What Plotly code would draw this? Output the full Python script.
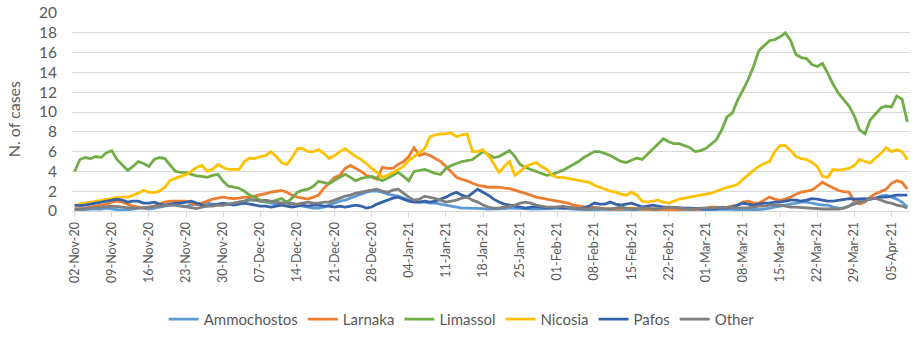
import pandas as pd
import plotly.graph_objects as go

dates = pd.date_range("2020-11-02", periods=158, freq="D")
categories = [d.strftime("%d-%b-%y") for d in dates]

tick_labels = ["02-Nov-20", "09-Nov-20", "16-Nov-20", "23-Nov-20", "30-Nov-20", "07-Dec-20",
               "14-Dec-20", "21-Dec-20", "28-Dec-20", "04-Jan-21", "11-Jan-21", "18-Jan-21",
               "25-Jan-21", "01-Feb-21", "08-Feb-21", "15-Feb-21", "22-Feb-21", "01-Mar-21",
               "08-Mar-21", "15-Mar-21", "22-Mar-21", "29-Mar-21", "05-Apr-21"]

ammochostos = [0.1, 0.1, 0.15, 0.2, 0.2, 0.2, 0.3, 0.2, 0.15, 0.1, 0.1, 0.2, 0.3, 0.3, 0.2, 0.3,
               0.4, 0.5, 0.6, 0.6, 0.5, 0.5, 0.6, 0.7, 0.8, 0.8, 0.7, 0.6, 0.6, 0.7, 0.8, 0.9,
               1.0, 1.1, 1.1, 1.0, 0.9, 0.8, 0.7, 0.8, 0.9, 0.8, 0.6, 0.5, 0.4, 0.3, 0.3, 0.4,
               0.6, 0.8, 1.0, 1.1, 1.3, 1.5, 1.7, 1.9, 2.0, 2.0, 1.9, 1.7, 1.6, 1.5, 1.3, 1.1,
               1.0, 0.9, 0.9, 0.8, 0.8, 0.7, 0.6, 0.5, 0.4, 0.3, 0.3, 0.3, 0.3, 0.25, 0.2, 0.2,
               0.2, 0.25, 0.3, 0.3, 0.3, 0.25, 0.2, 0.2, 0.2, 0.2, 0.25, 0.3, 0.3, 0.25, 0.2, 0.2,
               0.15, 0.1, 0.1, 0.15, 0.2, 0.2, 0.2, 0.15, 0.1, 0.1, 0.15, 0.2, 0.2, 0.2, 0.15, 0.1,
               0.1, 0.1, 0.1, 0.1, 0.1, 0.1, 0.1, 0.1, 0.1, 0.15, 0.2, 0.2, 0.2, 0.15, 0.1, 0.1,
               0.1, 0.15, 0.2, 0.3, 0.4, 0.5, 0.6, 0.7, 0.8, 0.9, 0.9, 0.8, 0.7, 0.6, 0.6, 0.4,
               0.3, 0.3, 0.5, 0.9, 1.0, 1.1, 1.25, 1.3, 1.5, 1.6, 1.4, 1.2, 0.9, 0.4]

larnaka = [0.2, 0.2, 0.3, 0.4, 0.5, 0.6, 0.7, 0.9, 1.0, 0.9, 0.7, 0.5, 0.4, 0.3, 0.4, 0.5,
           0.7, 0.9, 1.0, 1.0, 1.0, 1.0, 0.8, 0.6, 0.8, 1.0, 1.2, 1.3, 1.4, 1.3, 1.25, 1.3,
           1.4, 1.4, 1.5, 1.6, 1.75, 1.9, 2.0, 2.07, 1.9, 1.6, 1.4, 1.3, 1.2, 1.4, 1.6, 2.3,
           2.9, 3.4, 3.6, 4.3, 4.6, 4.3, 4.0, 3.6, 3.4, 3.2, 4.4, 4.3, 4.3, 4.7, 5.0, 5.5,
           6.4, 5.6, 5.8, 5.6, 5.3, 5.0, 4.5, 3.9, 3.4, 3.2, 3.05, 2.8, 2.6, 2.5, 2.4, 2.4,
           2.4, 2.3, 2.25, 2.1, 1.95, 1.8, 1.6, 1.4, 1.3, 1.25, 1.15, 1.0, 0.9, 0.8, 0.6, 0.5,
           0.45, 0.42, 0.35, 0.3, 0.25, 0.2, 0.2, 0.25, 0.3, 0.3, 0.25, 0.2, 0.15, 0.2, 0.2, 0.15,
           0.1, 0.15, 0.2, 0.2, 0.2, 0.15, 0.2, 0.3, 0.4, 0.4, 0.35, 0.4, 0.5, 0.6, 0.9, 1.0,
           0.8, 0.8, 1.1, 1.4, 1.2, 1.08, 1.2, 1.4, 1.7, 1.9, 2.0, 2.1, 2.5, 2.9, 2.6, 2.3,
           2.07, 1.95, 1.9, 1.0, 0.7, 0.9, 1.4, 1.75, 2.0, 2.2, 2.8, 3.05, 2.9, 2.2]

limassol = [4.0, 5.2, 5.4, 5.3, 5.5, 5.4, 5.9, 6.1, 5.2, 4.6, 4.1, 4.5, 5.0, 4.8, 4.5, 5.2,
            5.4, 5.3, 4.6, 4.0, 3.9, 3.9, 3.7, 3.55, 3.5, 3.4, 3.6, 3.7, 3.0, 2.5, 2.4, 2.3,
            2.0, 1.6, 1.4, 1.1, 1.0, 0.9, 1.1, 1.25, 0.9, 1.3, 1.9, 2.1, 2.2, 2.5, 3.0, 2.9,
            2.75, 3.1, 3.4, 3.7, 3.4, 3.05, 3.3, 3.4, 3.5, 3.3, 3.05, 3.3, 3.6, 3.9, 3.5, 3.05,
            4.0, 4.1, 4.2, 4.0, 3.8, 3.7, 4.3, 4.6, 4.8, 5.0, 5.1, 5.2, 5.6, 6.0, 5.7, 5.4,
            5.5, 5.8, 6.1, 5.5, 4.7, 4.4, 4.2, 4.0, 3.8, 3.6, 3.7, 3.9, 4.1, 4.4, 4.7, 5.0,
            5.4, 5.7, 6.0, 6.0, 5.8, 5.6, 5.3, 5.0, 4.9, 5.1, 5.35, 5.2, 5.7, 6.2, 6.8, 7.3,
            7.0, 6.8, 6.8, 6.6, 6.4, 6.0, 6.1, 6.3, 6.8, 7.2, 8.2, 9.5, 9.9, 11.2, 12.2, 13.3,
            14.6, 16.2, 16.7, 17.2, 17.3, 17.6, 18.0, 17.2, 15.8, 15.5, 15.4, 14.8, 14.6, 14.9, 13.9, 12.8,
            11.9, 11.2, 10.6, 9.6, 8.2, 7.8, 9.2, 9.8, 10.4, 10.6, 10.5, 11.6, 11.3, 9.0]

nicosia = [0.5, 0.7, 0.8, 0.9, 1.0, 1.1, 1.2, 1.3, 1.35, 1.4, 1.4, 1.6, 1.8, 2.1, 1.9, 1.85,
           2.0, 2.4, 3.1, 3.3, 3.5, 3.7, 4.0, 4.4, 4.6, 4.0, 4.2, 4.7, 4.4, 4.2, 4.2, 4.2,
           5.0, 5.35, 5.3, 5.5, 5.6, 6.0, 5.5, 4.9, 4.7, 5.4, 6.3, 6.3, 6.0, 6.0, 6.2, 5.8,
           5.3, 5.6, 6.0, 6.3, 5.9, 5.5, 5.2, 4.8, 4.3, 3.9, 3.4, 3.6, 3.9, 4.2, 4.5, 5.1,
           5.5, 5.85, 6.3, 7.5, 7.7, 7.8, 7.8, 7.9, 7.5, 7.7, 7.8, 6.0, 6.0, 6.2, 5.6, 4.8,
           3.9, 4.5, 5.0, 3.6, 4.0, 4.5, 4.7, 4.9, 4.5, 4.2, 3.6, 3.4, 3.4, 3.3, 3.2, 3.05,
           3.0, 2.9, 2.6, 2.4, 2.2, 2.0, 1.9, 1.7, 1.6, 1.9, 1.6, 1.0, 0.9, 1.0, 1.1, 0.9,
           0.8, 1.0, 1.2, 1.3, 1.4, 1.5, 1.6, 1.7, 1.8, 2.0, 2.2, 2.4, 2.5, 2.7, 3.2, 3.7,
           4.1, 4.5, 4.8, 5.0, 6.0, 6.6, 6.6, 6.1, 5.5, 5.3, 5.2, 4.9, 4.5, 3.5, 3.4, 4.2,
           4.1, 4.2, 4.3, 4.6, 5.2, 5.0, 4.86, 5.35, 5.8, 6.4, 6.0, 6.2, 6.0, 5.2]

pafos = [0.6, 0.55, 0.6, 0.7, 0.8, 0.9, 1.0, 1.1, 1.2, 1.1, 0.9, 1.0, 1.0, 0.8, 0.8, 0.9,
         0.7, 0.6, 0.7, 0.8, 0.8, 0.9, 1.0, 0.8, 0.6, 0.5, 0.6, 0.7, 0.8, 0.7, 0.6, 0.7,
         0.8, 0.7, 0.6, 0.5, 0.5, 0.4, 0.5, 0.6, 0.5, 0.4, 0.5, 0.6, 0.5, 0.6, 0.6, 0.5,
         0.5, 0.4, 0.5, 0.4, 0.5, 0.6, 0.5, 0.3, 0.4, 0.7, 0.9, 1.1, 1.3, 1.4, 1.2, 1.0,
         0.9, 0.9, 1.0, 0.9, 1.0, 1.2, 1.4, 1.7, 1.9, 1.6, 1.4, 1.8, 2.2, 1.9, 1.6, 1.2,
         0.9, 0.7, 0.6, 0.5, 0.4, 0.3, 0.4, 0.45, 0.4, 0.3, 0.35, 0.4, 0.3, 0.35, 0.3, 0.25,
         0.3, 0.5, 0.8, 0.7, 0.7, 0.9, 0.7, 0.6, 0.7, 0.8, 0.6, 0.4, 0.5, 0.6, 0.5, 0.4,
         0.4, 0.35, 0.3, 0.3, 0.3, 0.3, 0.25, 0.2, 0.2, 0.25, 0.3, 0.3, 0.4, 0.6, 0.8, 0.7,
         0.6, 0.7, 0.8, 0.8, 0.9, 0.9, 1.0, 1.1, 1.1, 1.0, 1.1, 1.25, 1.2, 1.1, 1.0, 1.0,
         1.1, 1.2, 1.25, 1.2, 1.25, 1.25, 1.2, 1.3, 1.4, 1.4, 1.5, 1.6, 1.6, 1.6]

other = [0.2, 0.2, 0.25, 0.3, 0.35, 0.4, 0.5, 0.5, 0.45, 0.4, 0.3, 0.3, 0.3, 0.35, 0.4, 0.5,
         0.5, 0.6, 0.6, 0.6, 0.5, 0.4, 0.3, 0.25, 0.4, 0.5, 0.5, 0.6, 0.6, 0.7, 0.8, 0.9,
         1.0, 1.2, 1.1, 1.0, 1.1, 1.0, 0.9, 0.8, 0.8, 0.7, 0.7, 0.8, 0.9, 0.8, 0.8, 0.9,
         0.9, 1.1, 1.3, 1.5, 1.6, 1.8, 1.9, 2.0, 2.1, 2.2, 2.0, 1.9, 2.1, 2.2, 1.8, 1.4,
         1.1, 1.2, 1.5, 1.4, 1.25, 1.1, 0.9, 1.0, 1.1, 1.3, 1.4, 1.1, 0.9, 0.6, 0.4, 0.3,
         0.3, 0.4, 0.5, 0.6, 0.8, 0.9, 0.8, 0.6, 0.5, 0.4, 0.4, 0.4, 0.5, 0.4, 0.3, 0.3,
         0.2, 0.2, 0.3, 0.3, 0.2, 0.2, 0.3, 0.4, 0.3, 0.2, 0.2, 0.3, 0.3, 0.2, 0.2, 0.3,
         0.4, 0.35, 0.3, 0.2, 0.2, 0.2, 0.3, 0.3, 0.3, 0.35, 0.4, 0.4, 0.35, 0.3, 0.3, 0.35,
         0.4, 0.5, 0.5, 0.6, 0.6, 0.6, 0.5, 0.4, 0.4, 0.35, 0.3, 0.3, 0.25, 0.2, 0.2, 0.2,
         0.2, 0.3, 0.5, 0.7, 0.9, 1.0, 1.25, 1.3, 1.1, 0.9, 0.8, 0.6, 0.5, 0.3]

series = [
    ("Ammochostos", ammochostos, "#5B9BD5"),
    ("Larnaka", larnaka, "#ED7D31"),
    ("Limassol", limassol, "#70AD47"),
    ("Nicosia", nicosia, "#FFC000"),
    ("Pafos", pafos, "#3662AA"),
    ("Other", other, "#7F7F7F"),
]

FONT = "Lato, 'Noto Sans', sans-serif"
TXT = "#595959"

fig = go.Figure()
for name, vals, col in series:
    fig.add_trace(go.Scatter(x=categories, y=vals, name=name, mode="lines",
                             line=dict(color=col, width=2.8)))

fig.update_layout(
    width=918, height=344,
    margin=dict(l=72, r=8, t=13, b=128),
    paper_bgcolor="white", plot_bgcolor="white",
    font=dict(family=FONT, color=TXT),
    showlegend=True,
    legend=dict(orientation="h", x=0.465, xanchor="center", y=-0.547, yanchor="middle",
                font=dict(size=15, color=TXT), itemwidth=30, tracegroupgap=0),
    xaxis=dict(type="category", categoryorder="array", categoryarray=categories,
               range=[-0.5, len(categories) - 0.5],
               tickmode="array", tickvals=tick_labels, ticktext=tick_labels,
               tickangle=-90, tickfont=dict(size=12.5, color=TXT),
               ticks="outside", ticklen=5, tickcolor="#D9D9D9",
               showline=True, linecolor="#D9D9D9", linewidth=1,
               showgrid=False, zeroline=False, automargin=False),
    yaxis=dict(range=[0, 20], dtick=2, tick0=0,
               tickfont=dict(size=15.5, color=TXT),
               showgrid=True, gridcolor="#D9D9D9", gridwidth=1,
               zeroline=False, showline=False, ticks="",
               ticklabelstandoff=14, automargin=False),
)

fig.add_annotation(text="N. of cases", textangle=-90, showarrow=False,
                   xref="paper", yref="paper", x=-(72 - 13) / 838, y=0.463,
                   xanchor="center", yanchor="middle",
                   font=dict(size=16, color=TXT, family=FONT))

fig.write_html("out.html")
